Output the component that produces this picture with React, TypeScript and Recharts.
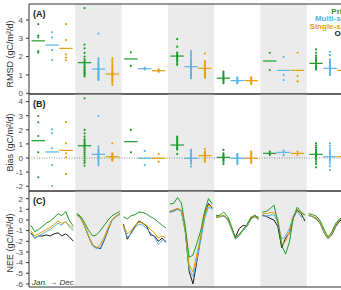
import {
  ComposedChart,
  XAxis,
  YAxis,
  Scatter,
  Line,
  ReferenceArea,
  ReferenceLine,
} from "recharts";

const SITES = [0, 1, 2, 3, 4, 5, 6];
const MONTHS = ["Jan", "Feb", "Mar", "Apr", "May", "Jun", "Jul", "Aug", "Sep", "Oct", "Nov", "Dec"];
const SERIES = ["Prior", "Multi-site", "Single-site", "Obs"];
const COLORS = ["#1c9a2c", "#56b4e9", "#e69f00", "#1a1a1a"];

// RMSD per site (one dot per year)
const RMSD_PRIOR = [
  [3.77, 3.15, 3.05, 2.3, 2.22],
  [4.65, 2.65, 2.45, 2.2, 2.0, 1.85, 1.75, 1.65, 1.55, 1.45, 1.38, 1.3, 1.22, 1.15, 1.08, 1.0, 0.92],
  [2.23, 1.49],
  [2.95, 2.54, 2.22, 2.14, 2.08, 2.02, 1.96, 1.9, 1.82, 1.74, 1.65, 1.55],
  [1.18, 1.1, 1.02, 0.95, 0.88, 0.82, 0.76, 0.7, 0.62, 0.54],
  [2.21, 1.27],
  [2.39, 2.21, 2.05, 1.95, 1.86, 1.78, 1.7, 1.62, 1.54, 1.46, 1.38, 1.3],
];
const RMSD_MULTI = [
  [3.33, 3.04, 2.35, 1.81],
  [3.25, 1.9, 1.8, 1.7, 1.62, 1.55, 1.48, 1.4, 1.35, 1.3, 1.22, 1.15, 1.08, 1.0, 0.92, 0.85, 0.78, 0.72],
  [1.38, 1.34, 1.3],
  [2.32, 2.2, 2.08, 1.96, 1.85, 1.75, 1.66, 1.58, 1.5, 1.43, 1.36, 1.28, 1.2, 1.12, 1.04, 0.96, 0.88, 0.82],
  [0.87, 0.8, 0.74, 0.69, 0.64, 0.59, 0.54],
  [1.99, 1.0, 0.72],
  [2.26, 2.08, 1.85, 1.76, 1.68, 1.6, 1.52, 1.45, 1.38, 1.3, 1.22, 1.14, 1.06, 1.0],
];
const RMSD_SINGLE = [
  [3.77, 2.9, 2.12, 1.95, 1.8],
  [1.9, 1.78, 1.66, 1.55, 1.45, 1.36, 1.28, 1.2, 1.12, 1.05, 1.0, 0.95, 0.9, 0.82, 0.74, 0.66, 0.58, 0.45],
  [1.3, 1.23, 1.17],
  [2.17, 1.75, 1.66, 1.58, 1.5, 1.43, 1.36, 1.3, 1.24, 1.16, 1.08, 1.0, 0.92, 0.86],
  [0.87, 0.8, 0.73, 0.67, 0.61, 0.55, 0.5],
  [2.21, 0.94, 0.65],
  [2.0, 1.6, 1.45, 1.35, 1.25, 1.15, 1.05, 0.95],
];
const RMSD_MEAN_PRIOR = [2.86, 1.67, 1.87, 2.03, 0.82, 1.76, 1.63];
const RMSD_MEAN_MULTI = [2.63, 1.32, 1.34, 1.45, 0.69, 1.25, 1.36];
const RMSD_MEAN_SINGLE = [2.45, 1.05, 1.23, 1.36, 0.69, 1.25, 1.25];

// Bias per site
const BIAS_PRIOR = [
  [2.98, 2.53, 1.56, 0.4, -1.37],
  [4.23, 1.99, 1.75, 1.51, 1.32, 1.2, 1.08, 0.98, 0.88, 0.78, 0.66, 0.52, 0.38, 0.24, 0.1, -0.05, -0.2, -0.35, -0.55],
  [1.99, 0.4],
  [1.51, 1.4, 1.3, 1.2, 1.1, 1.0, 0.9, 0.8, 0.7, 0.6, 0.28],
  [0.57, 0.33, 0.24, 0.16, 0.08, 0.0, -0.08, -0.17, -0.27, -0.43],
  [0.45, 0.33, 0.22],
  [1.04, 0.88, 0.74, 0.62, 0.5, 0.4, 0.3, 0.2, 0.1, 0.0, -0.12, -0.26, -0.42, -0.66],
];
const BIAS_MULTI = [
  [2.03, 1.75, 0.69, -0.5, -1.99],
  [2.98, 0.8, 0.62, 0.5, 0.4, 0.32, 0.24, 0.16, 0.08, 0.0, -0.1, -0.22, -0.35, -0.5],
  [0.5, -0.5],
  [0.57, 0.45, 0.34, 0.24, 0.14, 0.04, -0.06, -0.16, -0.27, -0.4, -0.61],
  [0.28, 0.18, 0.1, 0.02, -0.06, -0.14, -0.24, -0.34, -0.43],
  [0.52, 0.4, 0.2],
  [1.04, 0.85, 0.68, 0.52, 0.38, 0.26, 0.14, 0.04, -0.08, -0.22, -0.38, -0.58, -0.85],
];
const BIAS_SINGLE = [
  [2.55, 1.04, 0.33, 0.05, -1.13],
  [1.04, 0.33, 0.25, 0.18, 0.12, 0.06, 0.0, -0.06, -0.12, -0.19],
  [0.28, -0.26],
  [0.64, 0.45, 0.36, 0.28, 0.2, 0.12, 0.04, -0.04, -0.14, -0.26],
  [0.45, 0.34, 0.24, 0.14, 0.05, -0.04, -0.13, -0.24, -0.38],
  [0.45, 0.21],
  [0.6, 0.3, 0.1, -0.1, -0.3],
];
const BIAS_MEAN_PRIOR = [1.23, 0.87, 1.16, 0.92, 0.05, 0.33, 0.26];
const BIAS_MEAN_MULTI = [0.43, 0.26, -0.02, -0.02, -0.02, 0.4, 0.09];
const BIAS_MEAN_SINGLE = [0.54, 0.09, -0.02, 0.17, -0.02, 0.33, 0.1];

// NEE seasonal cycle per site, Jan..Dec
const NEE_PRIOR = [
  [-0.5, -1.1, -0.9, -0.6, -0.3, -0.1, 0.2, 0.6, 0.4, 0.8, -0.1, -0.6],
  [0.6, 0.3, -0.3, -1.0, -1.5, -1.4, -1.0, -0.5, 0.0, 0.4, 0.6, 0.8],
  [0.3, 0.1, 0.4, 0.5, 0.75, 0.7, 0.55, 0.3, 0.1, -0.2, -0.5, -0.75],
  [1.5, 1.55, 2.1, 1.6, -0.6, -3.5, -3.3, -2.2, -1.0, 0.8, 2.0, 1.5],
  [0.4, 0.45, 0.75, 0.3, -0.6, -1.7, -1.3, -0.9, -0.4, 0.2, 0.45, 0.2],
  [0.75, 0.8, 1.06, 1.4, -0.2, -2.4, -3.2, -2.06, 0.2, 1.2, 0.75, 0.45],
  [0.6, 0.5, 0.35, -0.1, -0.9, -1.6, -1.1, -0.3, 0.1, 0.3, 0.5, 0.6],
];
const NEE_MULTI = [
  [-1.3, -1.7, -1.5, -1.3, -1.1, -0.9, -0.6, -0.3, -0.5, -0.1, -0.7, -1.0],
  [0.5, 0.1, -0.7, -1.6, -2.4, -2.7, -2.6, -1.8, -0.8, 0.0, 0.3, 0.5],
  [-0.7, -1.6, -1.3, -0.7, -0.4, -0.5, -0.8, -1.2, -1.6, -2.3, -1.9, -1.9],
  [0.7, 0.8, 1.0, 0.8, -1.1, -4.6, -5.3, -3.7, -1.9, 0.1, 1.2, 1.0],
  [0.2, 0.3, 0.35, 0.0, -0.9, -1.8, -1.5, -1.0, -0.6, 0.2, 0.25, 0.0],
  [0.37, 0.37, 0.45, 0.5, -0.2, -1.8, -1.5, -0.8, 0.4, 0.8, 0.3, 0.1],
  [0.4, 0.3, 0.15, -0.3, -1.2, -1.8, -1.3, -0.5, 0.0, 0.2, 0.4, 0.5],
];
const NEE_SINGLE = [
  [-1.0, -1.5, -1.3, -1.1, -0.9, -0.7, -0.4, -0.1, -0.3, -0.2, -0.5, -0.8],
  [0.55, 0.15, -0.6, -1.5, -2.3, -2.6, -2.3, -1.6, -0.7, 0.05, 0.35, 0.55],
  [-0.5, -1.3, -1.0, -0.5, -0.2, -0.3, -0.5, -0.9, -1.2, -1.7, -1.5, -1.7],
  [0.8, 0.95, 1.1, 0.9, -0.9, -4.2, -4.9, -3.2, -1.5, 0.4, 1.4, 1.2],
  [0.3, 0.35, 0.45, 0.1, -0.8, -1.7, -1.4, -0.9, -0.5, 0.3, 0.3, 0.1],
  [0.6, 0.6, 0.7, 0.7, 0.1, -2.3, -2.0, -1.1, 0.3, 1.0, 0.6, 0.5],
  [0.45, 0.35, 0.2, -0.25, -1.1, -1.75, -1.25, -0.45, 0.05, 0.25, 0.45, 0.55],
];
const NEE_OBS = [
  [-1.2, -1.7, -1.5, -1.5, -1.4, -1.5, -1.3, -1.2, -1.5, -1.3, -1.6, -2.0],
  [0.5, 0.1, -0.6, -1.6, -2.4, -2.6, -2.7, -1.9, -0.9, 0.0, 0.3, 0.6],
  [-0.4, -1.8, -1.2, -0.6, -0.1, -0.3, -0.6, -1.4, -1.5, -2.0, -1.7, -2.1],
  [0.8, 0.85, 1.05, 0.85, -1.0, -4.8, -6.0, -3.9, -1.7, 0.5, 1.55, 1.1],
  [0.3, 0.3, 0.4, 0.1, -0.8, -1.6, -0.8, -0.5, -0.6, 0.1, 0.4, 0.2],
  [0.45, 0.35, 0.15, 0.0, -0.6, -2.6, -1.7, -1.2, 0.2, 0.9, 0.6, -0.1],
  [0.45, 0.3, 0.1, -0.35, -1.2, -1.7, -1.4, -0.6, -0.1, 0.2, 0.4, 0.5],
];

const W = 345;
const H = 290;
const X_MAX = 6.782;
const OFFSETS = [-0.3, 0, 0.3];
const HALF = 0.145;
const BANDS = [1, 3, 5];
const FONT = "'Liberation Sans', Arial, sans-serif";

const toPoints = (values: number[][], k: number) =>
  values.flatMap((vals, s) => vals.map((y) => ({ x: s + 0.5 + OFFSETS[k], y })));

const dotShape = (color: string) => (p: any) =>
  <circle cx={p.cx} cy={p.cy} r={1.1} fill={color} />;

function Frame(domain: number[]) {
  return (
    <ReferenceArea
      x1={0}
      x2={X_MAX}
      y1={domain[0]}
      y2={domain[1]}
      fill="none"
      stroke="#333"
      strokeWidth={1}
    />
  );
}

function yAxisProps(domain: number[], ticks: number[], title: string, dy: number) {
  return {
    type: "number" as const,
    domain,
    ticks,
    allowDataOverflow: true,
    interval: 0 as const,
    width: 29,
    tickSize: 3,
    tickMargin: 3,
    axisLine: false,
    tickLine: { stroke: "#333" },
    tick: { fontSize: 8, fill: "#4d4d4d" },
    label: { value: title, angle: -90, position: "center", dx: -4.5, dy, fontSize: 9, fill: "#333" },
  };
}

function DotPanel(props: {
  top: number;
  bottom: number;
  domain: number[];
  ticks: number[];
  title: string;
  titleDy: number;
  tag: string;
  sets: number[][][];
  means: number[][];
  zero?: boolean;
  children?: any;
}) {
  const { top, bottom, domain, ticks, sets, means } = props;
  return (
    <div style={{ position: "absolute", left: 0, top: 0 }}>
      <ComposedChart
        width={W}
        height={H}
        margin={{ top, bottom: H - bottom, left: 0, right: 2 }}
        style={{ fontFamily: FONT }}
      >
        <XAxis type="number" dataKey="x" domain={[0, X_MAX]} allowDataOverflow hide />
        <YAxis dataKey="y" {...(yAxisProps(domain, ticks, props.title, props.titleDy) as any)} />
        {BANDS.map((b) => (
          <ReferenceArea key={b} x1={b} x2={b + 1} y1={domain[0]} y2={domain[1]} fill="#ebebeb" fillOpacity={1} stroke="none" ifOverflow="hidden" />
        ))}
        {props.zero && <ReferenceLine y={0} stroke="#8a8a8a" strokeDasharray="1 1.5" />}
        {sets.map((vals, k) => (
          <Scatter
            key={SERIES[k]}
            name={SERIES[k]}
            dataKey="y"
            data={toPoints(vals, k)}
            fill={COLORS[k]}
            shape={dotShape(COLORS[k])}
            isAnimationActive={false}
          />
        ))}
        {means.map((row, k) =>
          row.map((m, s) => {
            const cx = s + 0.5 + OFFSETS[k];
            return (
              <ReferenceLine
                key={`${k}-${s}`}
                segment={[{ x: cx - HALF, y: m }, { x: cx + HALF, y: m }]}
                stroke={COLORS[k]}
                strokeWidth={1.2}
                ifOverflow="hidden"
              />
            );
          })
        )}
        {Frame(domain)}
        <text x={33} y={top + 12.5} fontSize={9} fontWeight="bold" fill="#1a1a1a">{props.tag}</text>
        {props.children}
      </ComposedChart>
    </div>
  );
}

const neeRows = SITES.flatMap((s) => [
  ...MONTHS.map((_, m) => ({
    x: s + 0.04 + (m * 0.92) / 11,
    prior: NEE_PRIOR[s][m],
    multi: NEE_MULTI[s][m],
    single: NEE_SINGLE[s][m],
    obs: NEE_OBS[s][m],
  })),
  { x: s + 0.98, prior: null, multi: null, single: null, obs: null },
]);

export default function App() {
  const dA = [-0.04, 4.87];
  const dB = [-2.34, 4.54];
  const dC = [-6.29, 2.72];
  return (
    <div style={{ position: "absolute", left: 0, top: 0, width: 341, height: 290, overflow: "hidden", background: "#fff" }}>
      <DotPanel
        top={4}
        bottom={94}
        domain={dA}
        ticks={[0, 1, 2, 3, 4]}
        title="RMSD (gC/m²/d)"
        titleDy={5}
        tag="(A)"
        sets={[RMSD_PRIOR, RMSD_MULTI, RMSD_SINGLE]}
        means={[RMSD_MEAN_PRIOR, RMSD_MEAN_MULTI, RMSD_MEAN_SINGLE]}
      >
        {SERIES.map((name, k) => (
          <text key={name} x={350} y={13.8 + k * 7.4} textAnchor="end" fontSize={8} fontWeight="bold" fill={COLORS[k]}>
            {name}
          </text>
        ))}
      </DotPanel>
      <DotPanel
        top={94}
        bottom={191}
        domain={dB}
        ticks={[-2, -1, 0, 1, 2, 3, 4]}
        title="Bias (gC/m²/d)"
        titleDy={0}
        tag="(B)"
        sets={[BIAS_PRIOR, BIAS_MULTI, BIAS_SINGLE]}
        means={[BIAS_MEAN_PRIOR, BIAS_MEAN_MULTI, BIAS_MEAN_SINGLE]}
        zero
      />
      <div style={{ position: "absolute", left: 0, top: 0 }}>
        <ComposedChart
          width={W}
          height={H}
          data={neeRows}
          margin={{ top: 191, bottom: 3, left: 0, right: 2 }}
          style={{ fontFamily: FONT }}
        >
          <XAxis type="number" dataKey="x" domain={[0, X_MAX]} allowDataOverflow hide />
          <YAxis {...(yAxisProps(dC, [-6, -5, -4, -3, -2, -1, 0, 1, 2], "NEE (gC/m²/d)", 4) as any)} />
          {BANDS.map((b) => (
            <ReferenceArea key={b} x1={b} x2={b + 1} y1={dC[0]} y2={dC[1]} fill="#ebebeb" fillOpacity={1} stroke="none" ifOverflow="hidden" />
          ))}
          <Line dataKey="obs" name={SERIES[3]} stroke={COLORS[3]} strokeWidth={1} dot={false} isAnimationActive={false} />
          <Line dataKey="multi" name={SERIES[1]} stroke={COLORS[1]} strokeWidth={1} dot={false} isAnimationActive={false} />
          <Line dataKey="single" name={SERIES[2]} stroke={COLORS[2]} strokeWidth={1} dot={false} isAnimationActive={false} />
          <Line dataKey="prior" name={SERIES[0]} stroke={COLORS[0]} strokeWidth={1} dot={false} isAnimationActive={false} />
          {Frame(dC)}
          <text x={33} y={203.5} fontSize={9} fontWeight="bold" fill="#1a1a1a">(C)</text>
          <text x={32} y={285} fontSize={8} fontStyle="italic" fill="#333">Jan. → Dec.</text>
        </ComposedChart>
      </div>
    </div>
  );
}
